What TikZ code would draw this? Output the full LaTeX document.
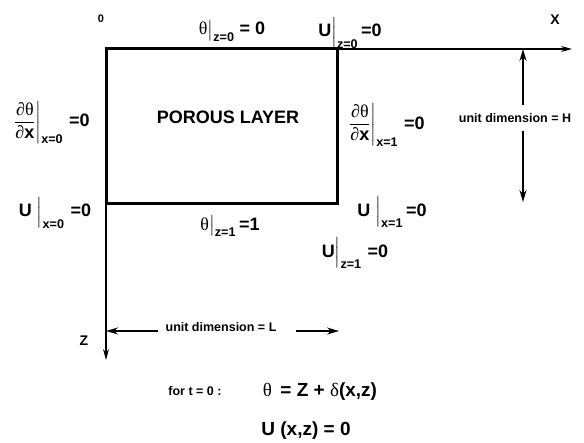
\documentclass[tikz,border=0pt]{standalone}
\usepackage{amsmath}
\usepackage{fontspec}
\setmainfont{Liberation Sans}
\newfontfamily\grk{Liberation Serif}
\usetikzlibrary{arrows.meta}

\newcommand{\thet}{{\grk\mdseries θ}}
\newcommand{\dpar}{{\grk\mdseries ∂}}
\newcommand{\evalbar}[1]{\ensuremath{\Big|_{\text{#1}}}}
\newcommand{\shortbar}[1]{\ensuremath{\big|_{\text{#1}}}}
\newcommand{\fracbar}[1]{\ensuremath{\dfrac{\text{\dpar\thet}}{\text{\dpar x}}\bigg|_{\text{#1}}}}

\tikzset{
  lbl/.style={font=\bfseries\fontsize{18}{20}\selectfont, inner sep=1pt},
  small/.style={font=\bfseries\fontsize{12.5}{14}\selectfont, inner sep=1pt},
  axis/.style={line width=1.1pt, -{Stealth[length=11pt,width=6pt]}},
  dimarrow/.style={line width=1.4pt, -{Stealth[length=12pt,width=7pt]}}
}

\begin{document}
\begin{tikzpicture}[x=1pt,y=-1pt]
\useasboundingbox (0,0) rectangle (584,443);
% axes and layer:
\coordinate (O) at (106,49);
\coordinate (corner) at (337,204);
\coordinate (xend) at (572,49);
\coordinate (zend) at (106,360);
\draw[axis] (O) -- (xend);
\draw[axis] (O) -- (zend);
\draw[line width=3pt] (O) rectangle (corner);
% axis labels:
\node[small,font=\bfseries\fontsize{11}{13}\selectfont] (zero) at (101,19) {0};
\node[lbl,font=\bfseries\fontsize{14}{16}\selectfont] (xlbl) at (555,20) {X};
\node[lbl,font=\bfseries\fontsize{14}{16}\selectfont] (zlbl) at (84,341) {Z};
\node[lbl] (porous) at (228,117) {POROUS LAYER};
% boundary conditions:
\node[lbl] (topT) at (232,31) {\thet\shortbar{z=0} = 0};
\node[lbl,inner sep=0pt] (topU) at (350,33) {U\evalbar{z=0}\,=0};
\node[lbl] (leftD) at (52,123) {\fracbar{x=0}\,\,=0};
\node[lbl] (rightD) at (387,125) {\fracbar{x=1}\,\,=0};
\node[lbl] (leftU) at (55,213) {U \evalbar{x=0}\,\,=0};
\node[lbl] (rightU) at (392,212) {U \evalbar{x=1}\,=0};
\node[lbl] (botT) at (230,226) {\thet\shortbar{z=1}\,=1};
\node[lbl] (botU) at (355,253) {U\evalbar{z=1}\,\,=0};
% dimensions:
\node[small,inner xsep=2pt,inner ysep=8pt] (dimH) at (515,118) {unit dimension = H};
\coordinate (Htop) at (523,49);
\coordinate (Hbot) at (523,202);
\draw[dimarrow] (Htop |- dimH.north) -- (Htop);
\draw[dimarrow] (Hbot |- dimH.south) -- (Hbot);
\node[small,inner xsep=7pt] (dimL) at (221,327) {unit dimension = L};
\coordinate (Lleft) at (106,331);
\coordinate (Lright) at (339,331);
\draw[dimarrow] (dimL.west |- Lleft) -- (Lleft);
\draw[dimarrow] ([xshift=12pt]dimL.east |- Lright) -- (Lright);
% initial condition:
\node[small] (fort) at (195,391) {for t = 0 :};
\node[lbl,font=\bfseries\fontsize{19}{21}\selectfont] (initT) at (320,392) {\thet\ \,= Z + {\grk\mdseries δ}(x,z)};
\node[lbl,font=\bfseries\fontsize{19}{21}\selectfont] (initU) at (306,431) {U (x,z) = 0};
\end{tikzpicture}
\end{document}
